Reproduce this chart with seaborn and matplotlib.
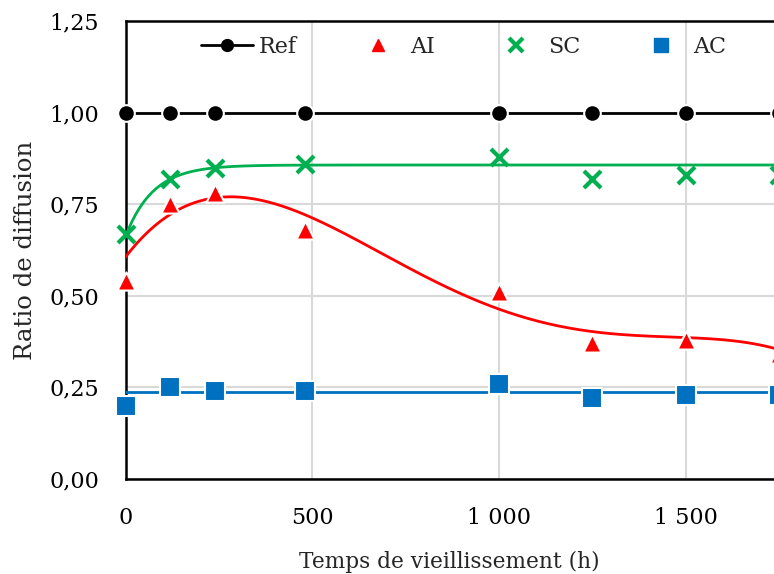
import numpy as np
import pandas as pd
import seaborn as sns
import matplotlib
matplotlib.use("Agg")
import matplotlib.pyplot as plt
from matplotlib.lines import Line2D
from matplotlib.ticker import FuncFormatter, MultipleLocator

# ---- data ----
hours = [0, 120, 240, 480, 1000, 1250, 1500, 1750]
ref = [1.00, 1.00, 1.00, 1.00, 1.00, 1.00, 1.00, 1.00]
ai = [0.54, 0.75, 0.78, 0.68, 0.51, 0.37, 0.38, 0.34]
sc = [0.67, 0.82, 0.85, 0.86, 0.88, 0.82, 0.83, 0.83]
ac = [0.20, 0.25, 0.24, 0.24, 0.26, 0.22, 0.23, 0.23]

# AI trend curve (polynomial trendline, order 4)
ai_trend_x = [0, 120, 240, 480, 1000, 1250, 1500, 1735]
ai_trend_y = [0.603, 0.726, 0.770, 0.716, 0.467, 0.402, 0.384, 0.358]
ai_poly_degree = 4
# SC trend: saturating rise
sc_start, sc_plateau, sc_tau = 0.662, 0.857, 74.0
# AC trend: flat level
ac_level = 0.238

sns.set_style("white")
plt.rcParams['font.family'] = ['DejaVu Serif']

fig = plt.figure(figsize=(7.74, 5.74), dpi=100)
W, H = 774, 574
ax = fig.add_axes([125.5 / W, (H - 479) / H, (W - 125.5) / W, (479 - 21) / H])

c_ref, c_ai, c_sc, c_ac = "#000000", "#FF0000", "#00B050", "#0070C0"

# trend lines
xs = np.linspace(0, 1760, 400)
coef = np.polyfit(ai_trend_x, ai_trend_y, ai_poly_degree)
trend = pd.DataFrame({
    "x": xs,
    "ai": np.polyval(coef, xs),
    "sc": sc_plateau - (sc_plateau - sc_start) * np.exp(-xs / sc_tau),
    "ac": np.full_like(xs, ac_level),
})
sns.lineplot(data=trend, x="x", y="ai", ax=ax, color=c_ai, lw=2, zorder=3)
sns.lineplot(data=trend, x="x", y="sc", ax=ax, color=c_sc, lw=2, zorder=3)
sns.lineplot(data=trend, x="x", y="ac", ax=ax, color=c_ac, lw=2, zorder=3)

df = pd.DataFrame({"h": hours, "ref": ref, "ai": ai, "sc": sc, "ac": ac})

# Ref: line + markers
sns.lineplot(data=df, x="h", y="ref", ax=ax, color=c_ref, lw=2, marker="o",
             markersize=12, markeredgecolor="white", markeredgewidth=1.5,
             zorder=5, clip_on=False)
# point series
sns.scatterplot(data=df, x="h", y="ai", ax=ax, color=c_ai, marker="^", s=170,
                edgecolor="white", linewidth=1.5, zorder=6, clip_on=False)
sns.scatterplot(data=df, x="h", y="sc", ax=ax, color=c_sc, marker="x", s=150,
                linewidth=3, zorder=6, clip_on=False)
sns.scatterplot(data=df, x="h", y="ac", ax=ax, color=c_ac, marker="s", s=210,
                edgecolor="white", linewidth=1.5, zorder=6, clip_on=False)

ax.set_xlim(0, 1736)
ax.set_ylim(0, 1.25)
ax.xaxis.set_major_locator(MultipleLocator(500))
ax.yaxis.set_major_locator(MultipleLocator(0.25))
ax.xaxis.set_major_formatter(FuncFormatter(lambda v, p: f"{int(v):,}".replace(",", " ")))
ax.yaxis.set_major_formatter(FuncFormatter(lambda v, p: f"{v:.2f}".replace(".", ",")))

ax.grid(True, color="#D9D9D9", lw=1.5)
ax.set_axisbelow(True)
for s in ["left", "bottom", "top"]:
    ax.spines[s].set_color("black")
    ax.spines[s].set_linewidth(1.8)
ax.spines["right"].set_visible(False)
ax.tick_params(axis="both", direction="inout", length=12, width=1.8,
               labelsize=16, colors="black")
ax.tick_params(axis="x", pad=14)
ax.tick_params(axis="y", pad=13)
ax.tick_params(top=False, right=False)

ax.set_xlabel("Temps de vieillissement (h)", fontsize=15.6, labelpad=16)
ax.set_ylabel("Ratio de diffusion", fontsize=17.6, labelpad=9)

handles = [
    Line2D([], [], color=c_ref, lw=2, marker="o", markersize=8.5,
           markeredgecolor=c_ref),
    Line2D([], [], color=c_ai, lw=0, marker="^", markersize=8),
    Line2D([], [], color=c_sc, lw=0, marker="x", markersize=10, markeredgewidth=3),
    Line2D([], [], color=c_ac, lw=0, marker="s", markersize=10),
]
ax.legend(handles, ["Ref", "AI", "SC", "AC"], loc="center", ncol=4,
          bbox_to_anchor=(0.521, 0.943), frameon=False, fontsize=16,
          handlelength=2.35, handletextpad=0.28, columnspacing=2.45)

fig.savefig("out.png", dpi=100)
